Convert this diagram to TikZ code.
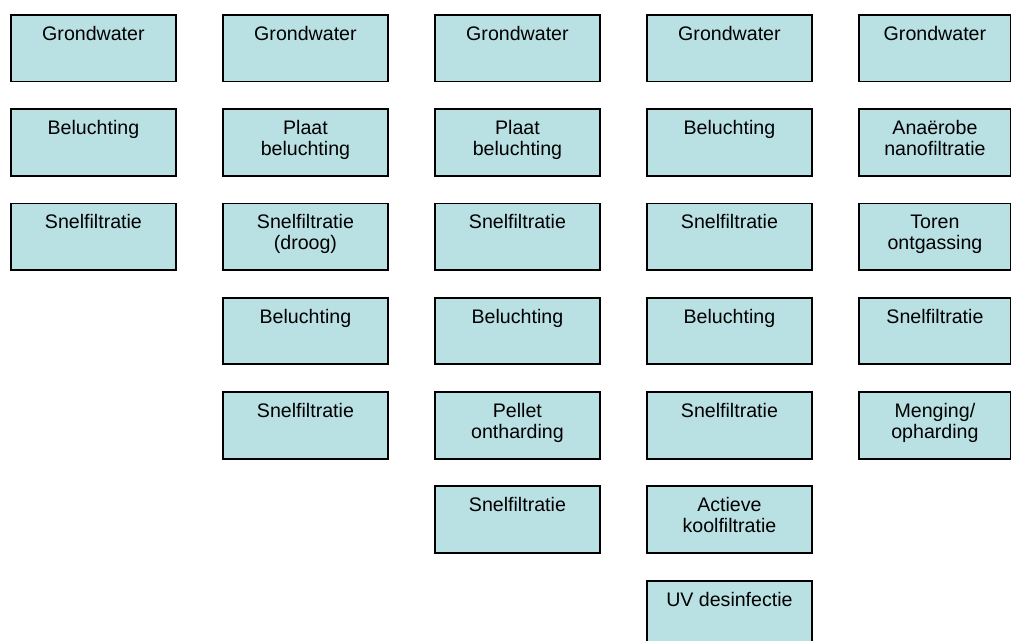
\documentclass[tikz,border=0pt]{standalone}
\usepackage{fontspec}
\setmainfont{Liberation Sans}
\definecolor{boxfill}{RGB}{185,224,227}
\newcommand{\stepbx}[5][]{%
  \node[box,#1] (#4) at (#2,#3) {};
  \node[lbl] (#4t) at (#4.north) {\rule{0pt}{11.25pt}#5};
}
\begin{document}
\begin{tikzpicture}[x=0.75pt,y=-0.75pt,
  box/.style={draw=black, line width=1.4pt, fill=boxfill,
    minimum width=123.75pt, minimum height=49.9pt, inner sep=0pt, anchor=north west},
  narrowbox/.style={minimum width=114pt},
  lbl/.style={anchor=north, yshift=-8.25pt, align=center, inner sep=0pt,
    font=\fontsize{14.7}{15.75}\selectfont}]
\useasboundingbox (0,0) rectangle (1011,641);
\clip (0,0) rectangle (1011,641);
% column 1
\stepbx{10}{14}{a1}{Grondwater}
\stepbx{10}{108.3}{a2}{Beluchting}
\stepbx{10}{202.6}{a3}{Snelfiltratie}
% column 2
\stepbx{222}{14}{b1}{Grondwater}
\stepbx{222}{108.3}{b2}{Plaat\\beluchting}
\stepbx{222}{202.6}{b3}{Snelfiltratie\\(droog)}
\stepbx{222}{296.9}{b4}{Beluchting}
\stepbx{222}{391.2}{b5}{Snelfiltratie}
% column 3
\stepbx{434}{14}{c1}{Grondwater}
\stepbx{434}{108.3}{c2}{Plaat\\beluchting}
\stepbx{434}{202.6}{c3}{Snelfiltratie}
\stepbx{434}{296.9}{c4}{Beluchting}
\stepbx{434}{391.2}{c5}{Pellet\\ontharding}
\stepbx{434}{485.5}{c6}{Snelfiltratie}
% column 4
\stepbx{646}{14}{d1}{Grondwater}
\stepbx{646}{108.3}{d2}{Beluchting}
\stepbx{646}{202.6}{d3}{Snelfiltratie}
\stepbx{646}{296.9}{d4}{Beluchting}
\stepbx{646}{391.2}{d5}{Snelfiltratie}
\stepbx{646}{485.5}{d6}{Actieve\\koolfiltratie}
\stepbx{646}{579.8}{d7}{UV desinfectie}
% column 5
\stepbx[narrowbox]{858}{14}{e1}{Grondwater}
\stepbx[narrowbox]{858}{108.3}{e2}{Anaërobe\\nanofiltratie}
\stepbx[narrowbox]{858}{202.6}{e3}{Toren\\ontgassing}
\stepbx[narrowbox]{858}{296.9}{e4}{Snelfiltratie}
\stepbx[narrowbox]{858}{391.2}{e5}{Menging/\\opharding}
\end{tikzpicture}
\end{document}
